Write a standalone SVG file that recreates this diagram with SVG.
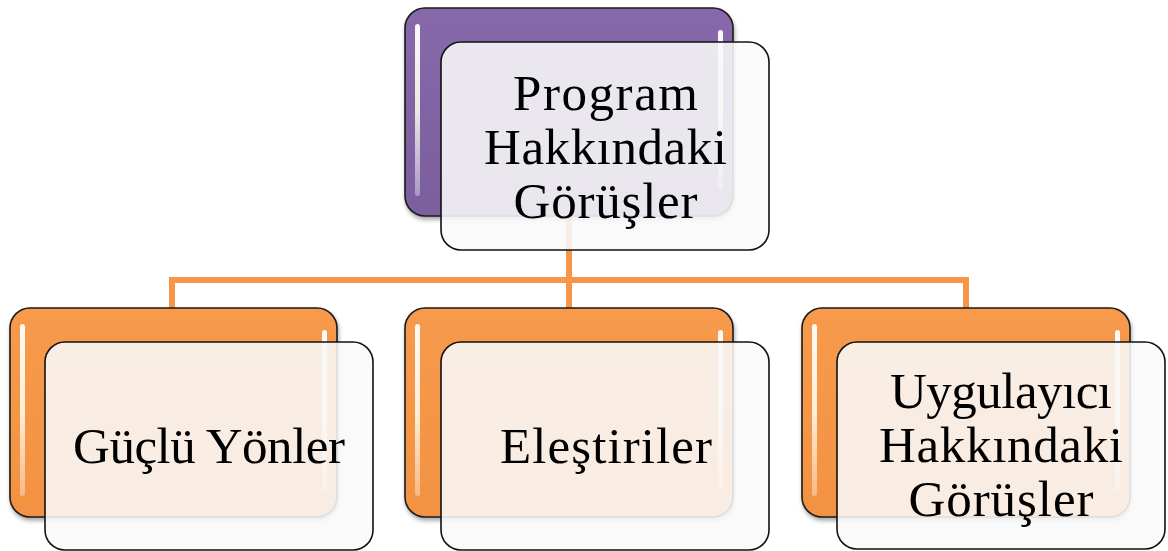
<svg xmlns="http://www.w3.org/2000/svg" width="1168" height="551" viewBox="0 0 1168 551">
  <style>
    .conn { stroke: #f79646; stroke-width: 6; fill: none; }
    .back { stroke: #1a1a1a; stroke-width: 1.6; }
    .purple { fill: url(#gPurple); }
    .orange { fill: url(#gOrange); }
    .front { fill: #f9f9f9; fill-opacity: 0.88; stroke: #111; stroke-width: 1.6; }
    .gloss { fill: url(#gGloss); }
    .label { font-family: "Liberation Serif", "Times New Roman", serif; font-size: 51px; fill: #000; text-anchor: middle; }
  </style>
  <defs>
    <linearGradient id="gPurple" x1="0" y1="0" x2="0" y2="1">
      <stop offset="0" stop-color="#8769ab"/>
      <stop offset="1" stop-color="#7b5e9d"/>
    </linearGradient>
    <linearGradient id="gOrange" x1="0" y1="0" x2="0" y2="1">
      <stop offset="0" stop-color="#f79a4c"/>
      <stop offset="1" stop-color="#f39242"/>
    </linearGradient>
    <linearGradient id="gGloss" x1="0" y1="0" x2="0" y2="1">
      <stop offset="0" stop-color="#ffffff" stop-opacity="0.95"/>
      <stop offset="0.5" stop-color="#fffff0" stop-opacity="0.85"/>
      <stop offset="1" stop-color="#ffffff" stop-opacity="0.35"/>
    </linearGradient>
    <filter id="shadow" x="-10%" y="-10%" width="120%" height="125%">
      <feGaussianBlur in="SourceAlpha" stdDeviation="2"/>
      <feOffset dx="1" dy="3" result="b"/>
      <feComponentTransfer><feFuncA type="linear" slope="0.35"/></feComponentTransfer>
      <feMerge><feMergeNode/><feMergeNode in="SourceGraphic"/></feMerge>
    </filter>
  </defs>

  <!-- connectors -->
  <g id="connectors">
    <path class="conn" d="M569 215 V308"/>
    <path class="conn" d="M172 280 H966"/>
    <path class="conn" d="M172 277 V309"/>
    <path class="conn" d="M966 277 V309"/>
  </g>

  <!-- root node -->
  <g id="node-root">
    <rect class="back purple" x="405" y="8" width="328" height="208" rx="20" filter="url(#shadow)"/>
    <rect class="gloss" x="415" y="24" width="5" height="172" rx="2.5"/>
    <rect class="gloss" x="718" y="30" width="5" height="160" rx="2.5"/>
    <rect class="front" x="441" y="42" width="328" height="208" rx="20"/>
    <text class="label" x="605.5" y="110" textLength="185">Program</text>
    <text class="label" x="605.5" y="164" textLength="243">Hakkındaki</text>
    <text class="label" x="605.5" y="218" textLength="184">Görüşler</text>
  </g>

  <!-- child: Güçlü Yönler -->
  <g id="node-guclu">
    <rect class="back orange" x="10" y="308" width="327" height="209" rx="20" filter="url(#shadow)"/>
    <rect class="gloss" x="20" y="324" width="5" height="172" rx="2.5"/>
    <rect class="gloss" x="322" y="330" width="5" height="160" rx="2.5"/>
    <rect class="front" x="45" y="342" width="328" height="208" rx="20"/>
    <text class="label" x="209" y="463" textLength="272">Güçlü Yönler</text>
  </g>

  <!-- child: Eleştiriler -->
  <g id="node-elestiriler">
    <rect class="back orange" x="405" y="308" width="328" height="209" rx="20" filter="url(#shadow)"/>
    <rect class="gloss" x="415" y="324" width="5" height="172" rx="2.5"/>
    <rect class="gloss" x="718" y="330" width="5" height="160" rx="2.5"/>
    <rect class="front" x="441" y="342" width="328" height="208" rx="20"/>
    <text class="label" x="606" y="463" textLength="212">Eleştiriler</text>
  </g>

  <!-- child: Uygulayıcı Hakkındaki Görüşler -->
  <g id="node-uygulayici">
    <rect class="back orange" x="802" y="308" width="328" height="209" rx="20" filter="url(#shadow)"/>
    <rect class="gloss" x="812" y="324" width="5" height="172" rx="2.5"/>
    <rect class="gloss" x="1115" y="330" width="5" height="160" rx="2.5"/>
    <rect class="front" x="837" y="342" width="328" height="207" rx="20"/>
    <text class="label" x="1001" y="408" textLength="222">Uygulayıcı</text>
    <text class="label" x="1001" y="462" textLength="244">Hakkındaki</text>
    <text class="label" x="1001" y="516" textLength="185">Görüşler</text>
  </g>
</svg>
